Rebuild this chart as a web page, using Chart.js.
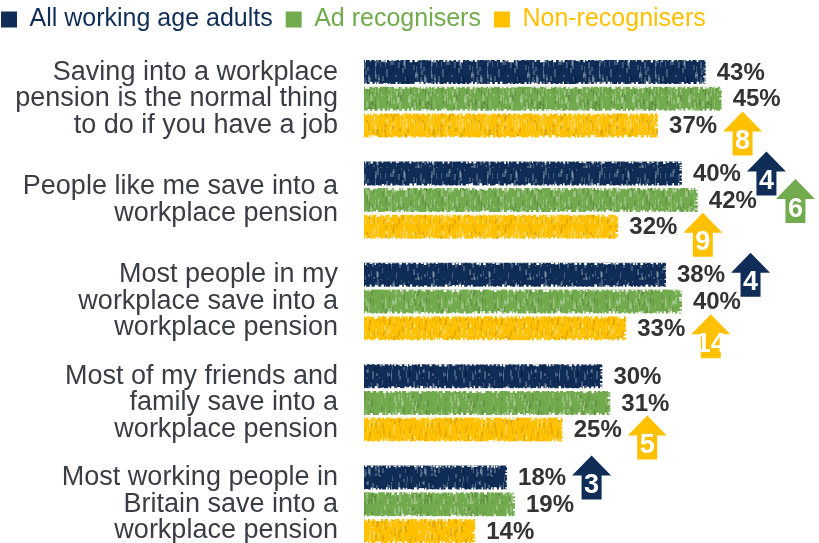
<!DOCTYPE html>
<html>
<head>
<meta charset="utf-8">
<script src="https://cdn.jsdelivr.net/npm/chart.js@4"></script>
<style>
  html, body { margin: 0; padding: 0; background: #fff; overflow: hidden; }
  #wrap { width: 819px; height: 560px; position: relative; }
</style>
</head>
<body>
<div id="wrap"><canvas id="attitudesChart"></canvas></div>
<script>
// chart data
const categories = [
    ['Saving into a workplace', 'pension is the normal thing', 'to do if you have a job'],
    ['People like me save into a', 'workplace pension'],
    ['Most people in my', 'workplace save into a', 'workplace pension'],
    ['Most of my friends and', 'family save into a', 'workplace pension'],
    ['Most working people in', 'Britain save into a', 'workplace pension']
];
const seriesNames = ['All working age adults', 'Ad recognisers', 'Non-recognisers'];
const allAdults = [43, 40, 38, 30, 18];
const adRecognisers = [45, 42, 40, 31, 19];
const nonRecognisers = [37, 32, 33, 25, 14];

// change arrows (points up): category index, series index, change
const arrowCats = [0, 1, 1, 1, 2, 2, 3, 4];
const arrowSeries = [2, 0, 1, 2, 0, 2, 2, 0];
const arrowChange = [8, 4, 6, 9, 4, 14, 5, 3];

const colors = ['#0f2d56', '#72ab4e', '#ffc000'];
const FONT = '"Liberation Sans", Arial, sans-serif';

const ctx = document.getElementById('attitudesChart').getContext('2d');

// crayon-ish texture for the bars
function sketchPattern(color, seed) {
    const c = document.createElement('canvas');
    c.width = 56; c.height = 56;
    const g = c.getContext('2d');
    g.fillStyle = color;
    g.fillRect(0, 0, 56, 56);
    const rnd = () => (seed = (seed * 16807) % 2147483647) / 2147483647;
    for (let i = 0; i < 160; i++) {
        g.fillStyle = rnd() < 0.55 ? 'rgba(255,255,255,0.22)' : 'rgba(0,0,0,0.10)';
        g.fillRect(Math.floor(rnd() * 56), Math.floor(rnd() * 56), 1 + Math.floor(rnd() * 2), 2 + Math.floor(rnd() * 7));
    }
    return ctx.createPattern(c, 'repeat');
}

// nudge the legend up/left so it sits in the corner
const legendNudge = {
    id: 'legendNudge',
    afterLayout(chart) {
        const lg = chart.legend;
        if (!lg) return;
        lg.left -= 12; lg.right -= 12;
        lg.top -= 6; lg.bottom -= 6;
    }
};

// chewed edges on the bars, like crayon strokes
const roughEdges = {
    id: 'roughEdges',
    afterDatasetsDraw(chart) {
        const c = chart.ctx;
        let seed = 97;
        const rnd = () => (seed = (seed * 16807) % 2147483647) / 2147483647;
        c.save();
        c.fillStyle = '#ffffff';
        chart.data.datasets.forEach((ds, s) => {
            chart.getDatasetMeta(s).data.forEach(bar => {
                const top = bar.y - bar.height / 2, bot = bar.y + bar.height / 2;
                for (let x = bar.base + 1; x < bar.x - 1; x += 2 + rnd() * 4) {
                    c.fillRect(x, top, 1 + rnd() * 2, rnd() * 2.5);
                    c.fillRect(x, bot - rnd() * 2.5, 1 + rnd() * 2, 3);
                }
                for (let y = top; y < bot; y += 2 + rnd() * 3) {
                    c.fillRect(bar.x - rnd() * 3, y, 4, 1 + rnd());
                }
            });
        });
        c.restore();
    }
};

const valueLabels = {
    id: 'valueLabels',
    afterDatasetsDraw(chart) {
        const c = chart.ctx;
        c.save();
        c.font = 'bold 24px ' + FONT;
        c.fillStyle = '#333333';
        c.textBaseline = 'middle';
        chart.data.datasets.forEach((ds, s) => {
            chart.getDatasetMeta(s).data.forEach((bar, i) => {
                c.fillText(ds.data[i] + '%', bar.x + 11, bar.y + 1);
            });
        });

        // arrows
        const dy = [-22, -21, -14];
        const placed = [];
        arrowCats.forEach((cat, k) => {
            const s = arrowSeries[k];
            const bar = chart.getDatasetMeta(s).data[cat];
            c.font = 'bold 24px ' + FONT;
            const labelW = c.measureText(chart.data.datasets[s].data[cat] + '%').width;
            let left = bar.x + 11 + labelW + 6;
            const top = bar.y + dy[s];
            const prev = placed.find(p => p.cat === cat && Math.abs(p.top - top) < 44 &&
                left < p.left + 39 && left + 39 > p.left);
            if (prev) left = prev.left + 29;
            placed.push({ cat, left, top });
            drawArrow(c, left, top, colors[s], arrowChange[k]);
        });
        c.restore();
    }
};

function drawArrow(c, x, y, color, num) {
    const w = 39, h = 44, head = 20, shaft = 20;
    const cx = x + w / 2;
    c.beginPath();
    c.moveTo(cx, y);
    c.lineTo(x + w, y + head);
    c.lineTo(cx + shaft / 2, y + head);
    c.lineTo(cx + shaft / 2, y + h);
    c.lineTo(cx - shaft / 2, y + h);
    c.lineTo(cx - shaft / 2, y + head);
    c.lineTo(x, y + head);
    c.closePath();
    c.fillStyle = color;
    c.fill();
    c.fillStyle = '#ffffff';
    c.font = 'bold 27px ' + FONT;
    c.textAlign = 'center';
    c.textBaseline = 'middle';
    c.fillText(String(num), cx, y + 30);
    c.textAlign = 'left';
}

new Chart(ctx, {
    type: 'bar',
    data: {
        labels: categories,
        datasets: [
            { label: seriesNames[0], data: allAdults, backgroundColor: sketchPattern(colors[0], 11) },
            { label: seriesNames[1], data: adRecognisers, backgroundColor: sketchPattern(colors[1], 23) },
            { label: seriesNames[2], data: nonRecognisers, backgroundColor: sketchPattern(colors[2], 37) }
        ]
    },
    options: {
        indexAxis: 'y',
        responsive: true,
        maintainAspectRatio: false,
        animation: false,
        categoryPercentage: 0.79,
        barPercentage: 0.9,
        layout: { padding: { top: 0, right: 2, bottom: 5, left: 0 } },
        scales: {
            x: { display: false, min: 0, max: 57 },
            y: {
                grid: { display: false, drawTicks: false },
                border: { display: false },
                ticks: {
                    color: '#3a3e44',
                    padding: 26,
                    font: { family: FONT, size: 27, lineHeight: 0.98 }
                },
                afterFit(scale) {
                    scale.width = 364;
                    scale.paddingTop = 0;
                    scale.paddingBottom = 0;
                }
            }
        },
        plugins: {
            tooltip: { enabled: false },
            legend: {
                position: 'top',
                align: 'start',
                labels: {
                    boxWidth: 16,
                    boxHeight: 16,
                    padding: 13,
                    font: { family: FONT, size: 25 },
                    generateLabels(chart) {
                        return chart.data.datasets.map((ds, i) => ({
                            text: ds.label,
                            fillStyle: colors[i],
                            strokeStyle: colors[i],
                            lineWidth: 0,
                            fontColor: colors[i],
                            datasetIndex: i
                        }));
                    }
                }
            }
        }
    },
    plugins: [legendNudge, roughEdges, valueLabels]
});
</script>
</body>
</html>
